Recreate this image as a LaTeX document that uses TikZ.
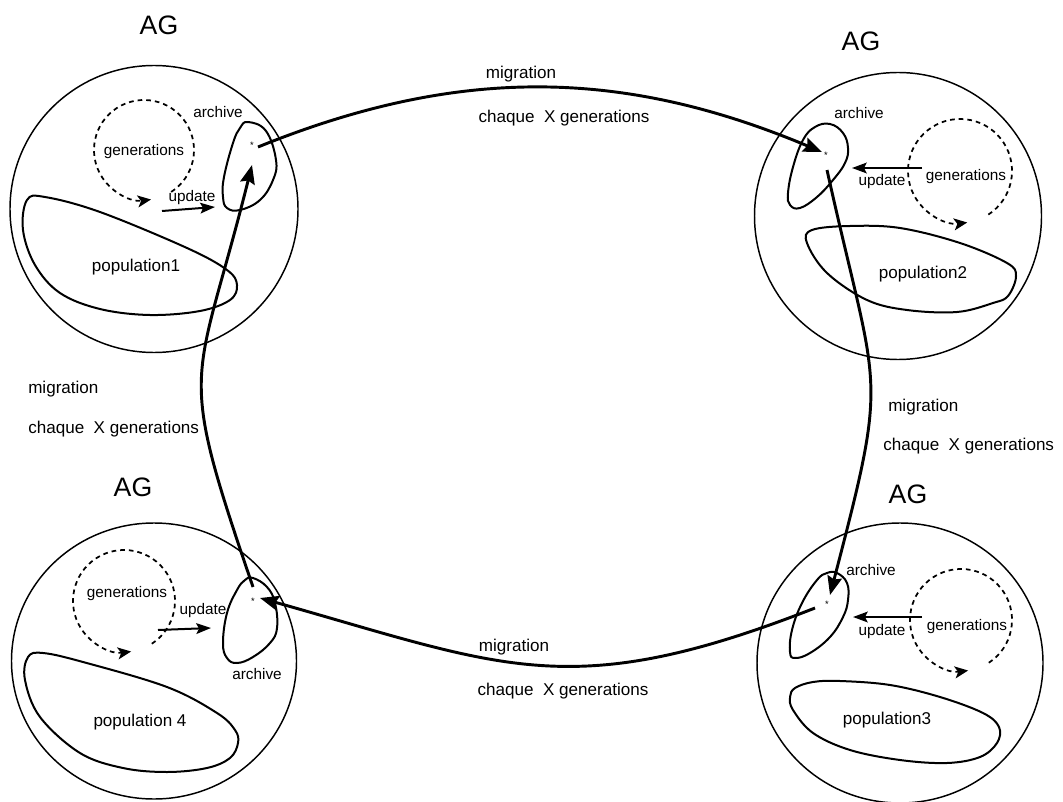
\documentclass[tikz,border=0pt]{standalone}
\usepackage{fontspec}
\setmainfont{Liberation Sans}
\usetikzlibrary{arrows.meta}
\begin{document}
\begin{tikzpicture}[x=0.75pt,y=-0.75pt,
 island/.style={line width=1.1pt},
 blob/.style={line width=1.5pt},
 gen/.style={line width=1.3pt, dash pattern=on 3.5pt off 3pt, -{Stealth[length=10pt,width=9pt,inset=2.5pt]}},
 upd/.style={line width=1.5pt, -{Stealth[length=11pt,width=8pt,inset=2pt]}},
 mig/.style={line width=2.2pt, -{Stealth[length=14pt,width=11pt,inset=2pt]}},
 lab/.style={inner sep=0pt, font=\fontsize{11.5}{13}\selectfont},
 big/.style={inner sep=0pt, font=\fontsize{12.8}{15}\selectfont},
 ag/.style={inner sep=0pt, font=\fontsize{20}{24}\selectfont},
 star/.style={inner sep=0pt, font=\fontsize{7}{8}\selectfont}]
\useasboundingbox (0,0) rectangle (1063,802);

% outer circles
\draw[island] (154,209) ellipse[x radius=144, y radius=143.5];
\draw[island] (898,216) ellipse[x radius=143.5, y radius=143.5];
\draw[island] (900,663) ellipse[x radius=143, y radius=140];
\draw[island] (154,661) ellipse[x radius=142.5, y radius=138];

% AG labels
\node[ag] (ag1) at (159,25) {AG};
\node[ag] (ag2) at (861,41) {AG};
\node[ag] (ag3) at (908,494) {AG};
\node[ag] (ag4) at (133,487) {AG};

% archives
\draw[blob] plot[smooth cycle, tension=0.7] coordinates {(248,122) (266,131) (276,160) (273,180) (260,200) (240,210) (227,208) (223,197) (224,177) (233,143) (240,128)};
\draw[blob] plot[smooth cycle, tension=0.7] coordinates {(830,124) (843,133) (848,148) (845,163) (833,180) (817,197) (800,208) (790,205) (788,193) (793,167) (803,140) (815,127)};
\draw[blob] plot[smooth cycle, tension=0.7] coordinates {(837,573) (847,583) (848,600) (843,617) (830,637) (810,653) (795,658) (790,652) (792,630) (802,603) (817,580) (827,573)};
\draw[blob] plot[smooth cycle, tension=0.7] coordinates {(253,578) (267,587) (275,603) (277,628) (270,643) (253,657) (237,663) (227,658) (223,643) (227,613) (237,590) (245,580)};

% populations
\draw[blob] plot[smooth cycle, tension=0.6] coordinates {(27,200) (45,197) (100,212) (187,248) (227,270) (237,285) (230,300) (200,311) (150,315) (100,309) (60,293) (35,265) (23,230)};
\draw[blob] plot[smooth cycle, tension=0.6] coordinates {(812,230) (850,226) (900,228) (960,243) (1007,263) (1016,276) (1008,296) (993,303) (957,312) (907,310) (867,300) (827,273) (807,243)};
\draw[blob] plot[smooth cycle, tension=0.6] coordinates {(795,688) (813,682) (840,681) (890,685) (940,697) (983,713) (999,727) (997,743) (980,757) (947,763) (900,760) (850,750) (813,733) (793,710) (790,697)};
\draw[blob] plot[smooth cycle, tension=0.6] coordinates {(28,657) (43,653) (83,662) (167,687) (217,713) (235,730) (238,743) (230,758) (207,768) (167,772) (123,768) (80,753) (40,717) (25,680)};

% generation loops
\draw[gen] (144,150) ++(57:50) arc[start angle=57, end angle=-278, radius=50];
\draw[gen] (960,171) ++(57:52) arc[start angle=57, end angle=-278, radius=52];
\draw[gen] (961,620) ++(57:51) arc[start angle=57, end angle=-278, radius=51];
\draw[gen] (124,601) ++(57:51) arc[start angle=57, end angle=-278, radius=51];

% labels
\node[lab] (g1) at (144,152) {generations};
\node[lab] (g2) at (966,177) {generations};
\node[lab] (g3) at (967,627) {generations};
\node[lab] (g4) at (127,594) {generations};
\node[lab] (up1) at (192,198) {update};
\node[lab] (up2) at (882,182) {update};
\node[lab] (up3) at (882,632) {update};
\node[lab] (up4) at (203,611) {update};
\node[lab] (ar1) at (218,112) {archive};
\node[lab] (ar2) at (859,113) {archive};
\node[lab] (ar3) at (871,570) {archive};
\node[lab] (ar4) at (257,674) {archive};
\node[big] (p1) at (136,267) {population1};
\node[big] (p2) at (923,274) {population2};
\node[big] (p3) at (887,720) {population3};
\node[big] (p4) at (140,722) {population 4};
\node[star] (s1) at (252,145) {*};
\node[star] (s2) at (826,155) {*};
\node[star] (s3) at (827,604) {*};
\node[star] (s4) at (253,601) {*};

% update arrows
\coordinate (u1a) at (162,211); \coordinate (u1b) at (215,207);
\coordinate (u2a) at (922,168); \coordinate (u2b) at (852,168);
\coordinate (u3a) at (922,617); \coordinate (u3b) at (853,617);
\coordinate (u4a) at (158,630); \coordinate (u4b) at (211,628);
\draw[upd] (u1a) -- (u1b);
\draw[upd] (u2a) -- (u2b);
\draw[upd] (u3a) -- (u3b);
\draw[upd] (u4a) -- (u4b);

% migration arrows
\coordinate (ma) at (258,147); \coordinate (mb) at (822,152);
\coordinate (mc) at (827,170); \coordinate (md) at (830,595);
\coordinate (me) at (815,608); \coordinate (mf) at (260,598);
\coordinate (mg) at (253,587); \coordinate (mh) at (252,165);
\draw[mig] (ma) .. controls (458,66) and (622,68) .. (mb);
\draw[mig] (mc) .. controls (878,400) and (890,365) .. (md);
\draw[mig] (me) .. controls (570,704) and (505,667) .. (mf);
\draw[mig] (mg) .. controls (175,359) and (195,393) .. (mh);

% migration labels
\node[big] (mt1) at (521,74) {migration};
\node[big] (mt2) at (564,118) {chaque\ \ X generations};
\node[big, anchor=west] (mr1) at (888,407) {migration};
\node[big, anchor=west] (mr2) at (883,446) {chaque\ \ X generations};
\node[big, anchor=west] (ml1) at (28,389) {migration};
\node[big, anchor=west] (ml2) at (28,429) {chaque\ \ X generations};
\node[big] (mb1) at (514,647) {migration};
\node[big] (mb2) at (563,691) {chaque\ \ X generations};
\end{tikzpicture}
\end{document}
